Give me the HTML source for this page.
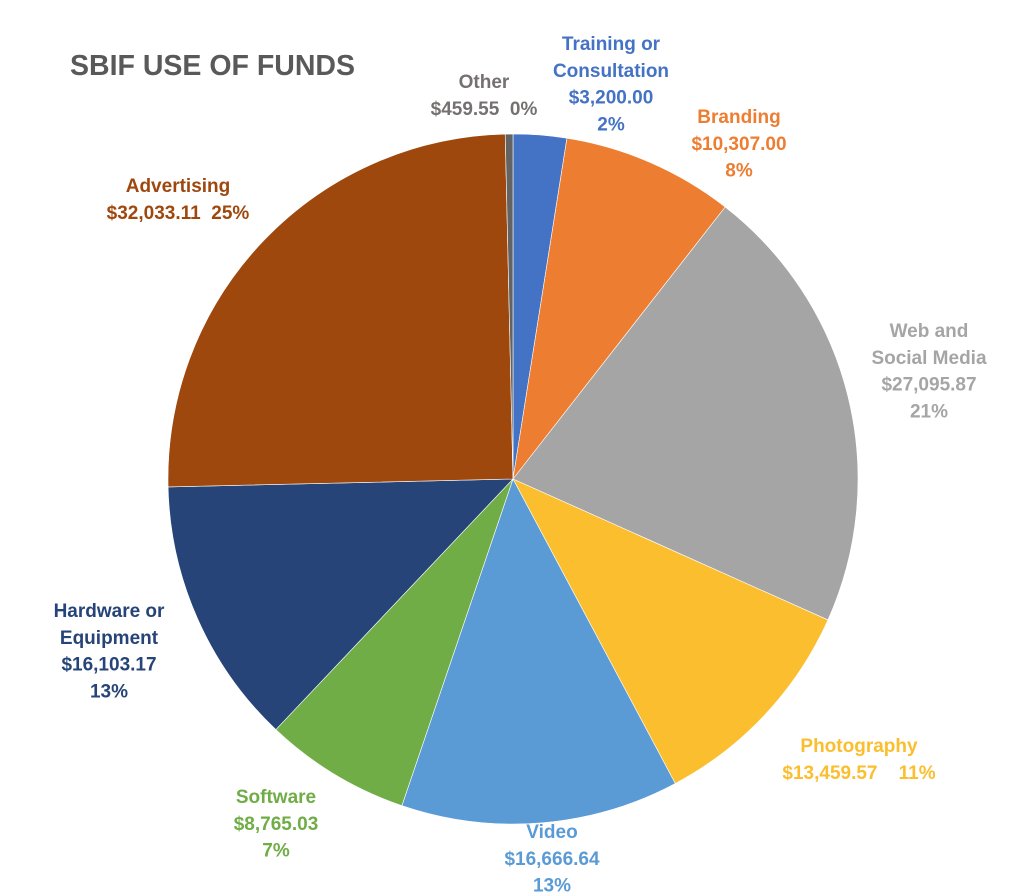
<!DOCTYPE html>
<html><head><meta charset="utf-8"><style>
html,body{margin:0;padding:0;background:#fff;}
svg{display:block;font-family:"Liberation Sans",Arial,sans-serif;font-weight:bold;}
</style></head><body>
<svg id="chart" width="1024" height="896" viewBox="0 0 1024 896">
<text x="70" y="75" font-size="28.5" fill="#595959">SBIF USE OF FUNDS</text>
<g id="slices"></g>
<g id="labels"></g>
</svg>
<script>
const categories = ["Training or Consultation","Branding","Web and Social Media","Photography","Video","Software","Hardware or Equipment","Advertising","Other"];
const values = [3200.00,10307.00,27095.87,13459.57,16666.64,8765.03,16103.17,32033.11,459.55];
const valueLabels = ["$3,200.00","$10,307.00","$27,095.87","$13,459.57","$16,666.64","$8,765.03","$16,103.17","$32,033.11","$459.55"];
const percentLabels = ["2%","8%","21%","11%","13%","7%","13%","25%","0%"];
const colors = ["#4472C4","#ED7D31","#A5A5A5","#FBBE2E","#5B9BD5","#70AD47","#264478","#9E480E","#636363"];
const textColors = ["#4472C4","#ED7D31","#A5A5A5","#FBBE2E","#5B9BD5","#70AD47","#264478","#9E480E","#767171"];
// label layout: [x, firstLineY, lines]
const labelLayout = [
 [611,50,["Training or","Consultation","$3,200.00","2%"]],
 [739,123,["Branding","$10,307.00","8%"]],
 [929,337,["Web and","Social Media","$27,095.87","21%"]],
 [859,752,["Photography","$13,459.57    11%"]],
 [552,838,["Video","$16,666.64","13%"]],
 [276,803,["Software","$8,765.03","7%"]],
 [109,617,["Hardware or","Equipment","$16,103.17","13%"]],
 [178,192,["Advertising","$32,033.11  25%"]],
 [484,88,["Other","$459.55  0%"]]
];
const cx=513, cy=479, r=345;
const NS="http://www.w3.org/2000/svg";
const total=values.reduce((a,b)=>a+b,0);
const sg=document.getElementById('slices');
let a0=0;
values.forEach((v,i)=>{
  const a1=a0+v/total*2*Math.PI;
  const x0=cx+r*Math.sin(a0), y0=cy-r*Math.cos(a0);
  const x1=cx+r*Math.sin(a1), y1=cy-r*Math.cos(a1);
  const large=(a1-a0)>Math.PI?1:0;
  const p=document.createElementNS(NS,'path');
  p.setAttribute('d',`M${cx},${cy} L${x0},${y0} A${r},${r} 0 ${large} 1 ${x1},${y1} Z`);
  p.setAttribute('fill',colors[i]);
  p.setAttribute('stroke','#fff');
  p.setAttribute('stroke-width','0.6');
  
  
  sg.appendChild(p);
  a0=a1;
});
const lg=document.getElementById('labels');
labelLayout.forEach((L,i)=>{
  const t=document.createElementNS(NS,'text');
  
  
  t.setAttribute('text-anchor','middle');
  t.setAttribute('font-size','19');
  t.setAttribute('fill',textColors[i]);
  L[2].forEach((s,k)=>{
    const ts=document.createElementNS(NS,'tspan');
    ts.setAttribute('x',L[0]);
    ts.setAttribute('y',L[1]+k*26.8);
    ts.style.whiteSpace='pre';
    ts.textContent=s;
    t.appendChild(ts);
  });
  lg.appendChild(t);
});
</script>
</body></html>
